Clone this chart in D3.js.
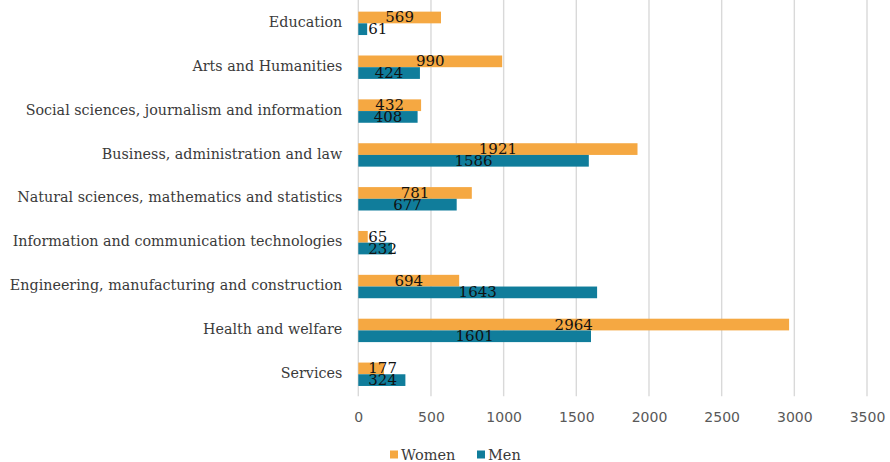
<!DOCTYPE html>
<html>
<head>
<meta charset="utf-8">
<script src="https://cdn.jsdelivr.net/npm/d3@7"></script>
<style>
  html, body { margin: 0; padding: 0; background: #fff; }
  svg { display: block; }
</style>
</head>
<body>
<svg id="chart" width="890" height="462"></svg>
<script>
// Graduates by field of education, split by gender
const categories = [
  "Education",
  "Arts and Humanities",
  "Social sciences, journalism and information",
  "Business, administration and law",
  "Natural sciences, mathematics and statistics",
  "Information and communication technologies",
  "Engineering, manufacturing and construction",
  "Health and welfare",
  "Services"
];
const women = [569, 990, 432, 1921, 781, 65, 694, 2964, 177];
const men   = [61, 424, 408, 1586, 677, 232, 1643, 1601, 324];
const seriesNames = ["Women", "Men"];
const tickValues = [0, 500, 1000, 1500, 2000, 2500, 3000, 3500];

const colors = { Women: "#F5A842", Men: "#107D9B" };
const serif = "'DejaVu Serif', serif";
const sans = "'DejaVu Sans', sans-serif";

const svg = d3.select("#chart");
const plot = { left: 358.3, right: 867, top: 1.4, bottom: 396.2 };

const x = d3.scaleLinear().domain([0, 3500]).range([plot.left, plot.right]);
const y = d3.scaleBand().domain(categories).range([plot.top, plot.bottom]);
const bandH = y.bandwidth();
const barH = 11.7;

// vertical gridlines
svg.append("g")
  .selectAll("line")
  .data(tickValues)
  .join("line")
  .attr("x1", d => x(d)).attr("x2", d => x(d))
  .attr("y1", 0).attr("y2", plot.bottom)
  .attr("stroke", "#d9d9d9")
  .attr("stroke-width", 1.4);

// x axis tick labels
const xAxis = d3.axisBottom(x).tickValues(tickValues).tickSize(0).tickPadding(0).tickFormat(d3.format("d"));
const gx = svg.append("g").attr("transform", `translate(0, ${plot.bottom + 16})`).call(xAxis);
gx.select(".domain").remove();
gx.selectAll("text")
  .attr("font-family", sans)
  .attr("font-size", 14)
  .attr("fill", "#595959");

// category labels
const yAxis = d3.axisLeft(y).tickSize(0).tickPadding(0);
const gy = svg.append("g").attr("transform", `translate(${plot.left - 16}, -1)`).call(yAxis);
gy.select(".domain").remove();
gy.selectAll("text")
  .attr("font-family", serif)
  .attr("font-size", 14.3)
  .attr("fill", "#3a3a3a");

// bars
const rows = categories.map((c, i) => ({ cat: c, Women: women[i], Men: men[i] }));
const groupTop = c => y(c) + bandH / 2 - barH;

seriesNames.forEach((s, si) => {
  const g = svg.append("g");
  g.selectAll("rect")
    .data(rows)
    .join("rect")
    .attr("x", x(0))
    .attr("y", d => groupTop(d.cat) + si * barH)
    .attr("width", d => x(d[s]) - x(0))
    .attr("height", barH)
    .attr("fill", colors[s]);
});

// value labels, centred on each bar but kept clear of the axis
seriesNames.forEach((s, si) => {
  const g = svg.append("g");
  g.selectAll("text")
    .data(rows)
    .join("text")
    .attr("font-family", serif)
    .attr("font-size", 15)
    .attr("fill", "#111")
    .attr("text-anchor", "middle")
    .attr("dominant-baseline", "central")
    .attr("y", d => groupTop(d.cat) + si * barH + barH / 2)
    .text(d => d[s])
    .attr("x", function(d) {
      const w = this.getComputedTextLength();
      const mid = (x(0) + x(d[s])) / 2;
      return Math.max(mid, x(0) + 10 + w / 2);
    });
});

// legend
const legend = svg.append("g").attr("transform", "translate(390, 455)");
const items = [{ name: "Women", x: 0 }, { name: "Men", x: 87 }];
items.forEach(it => {
  legend.append("rect")
    .attr("x", it.x).attr("y", -4.5)
    .attr("width", 8).attr("height", 8)
    .attr("fill", colors[it.name]);
  legend.append("text")
    .attr("x", it.x + 11).attr("y", 0)
    .attr("dominant-baseline", "central")
    .attr("font-family", serif)
    .attr("font-size", 14.5)
    .attr("fill", "#3a3a3a")
    .text(it.name);
});
</script>
</body>
</html>
